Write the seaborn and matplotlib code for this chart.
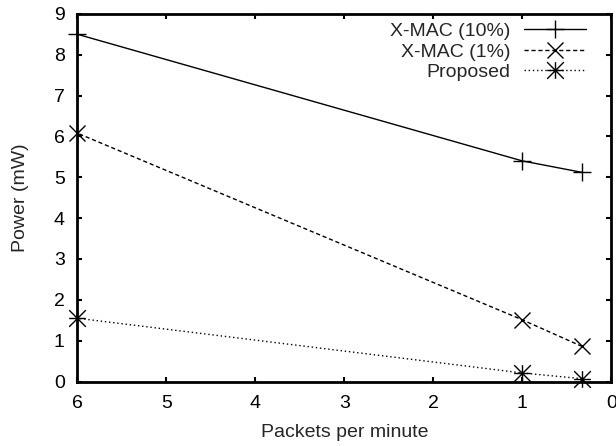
import numpy as np
import pandas as pd
import matplotlib
matplotlib.use("Agg")
import matplotlib.pyplot as plt
from matplotlib.path import Path
import seaborn as sns

# Packet rate (packets per minute) and average power draw (mW)
packets_per_minute = [6, 1, 0.33]
xmac_10 = [8.50, 5.40, 5.12]
xmac_1 = [6.08, 1.51, 0.86]
proposed = [1.55, 0.21, 0.07]
series_labels = ["X-MAC (10%)", "X-MAC (1%)", "Proposed"]
x_ticks = [6, 5, 4, 3, 2, 1, 0]
y_ticks = [0, 1, 2, 3, 4, 5, 6, 7, 8, 9]

sns.set_style("ticks")
plt.rcParams["font.family"] = ["Liberation Sans", "DejaVu Sans"]
plt.rcParams["font.size"] = 14

# gnuplot-style asterisk: a plus overlaid with a cross
asterisk = Path(
    [(-1, 0), (1, 0), (0, -1), (0, 1), (-1, -1), (1, 1), (-1, 1), (1, -1)],
    [Path.MOVETO, Path.LINETO] * 4,
)

df = pd.DataFrame({
    "rate": packets_per_minute * 3,
    "power": xmac_10 + xmac_1 + proposed,
    "scheme": [s for s in series_labels for _ in packets_per_minute],
})

fig = plt.figure(figsize=(6.16, 4.46), dpi=100)
ax = fig.add_axes([0.1255, 0.1445, 0.867, 0.8245])

styles = {
    "X-MAC (10%)": dict(marker="+", linestyle="-", markersize=13),
    "X-MAC (1%)": dict(marker="x", linestyle=(0, (3, 2)), markersize=12),
    "Proposed": dict(marker=asterisk, linestyle=(0, (1, 2)), markersize=12),
}

for name in series_labels:
    sub = df[df["scheme"] == name]
    sns.lineplot(
        data=sub, x="rate", y="power", ax=ax, color="black",
        linewidth=1.0, markeredgewidth=1.0, markeredgecolor="black",
        clip_on=False, label=name, **styles[name],
    )

ax.set_xlim(6, 0)
ax.set_ylim(0, 9)
ax.set_xticks(x_ticks)
ax.set_yticks(y_ticks)
ax.set_xticklabels([str(t) for t in x_ticks])
ax.set_yticklabels([str(t) for t in y_ticks])
ax.set_xlabel("Packets per minute", fontsize=14, labelpad=8.5)
ax.set_ylabel("Power (mW)", fontsize=14, labelpad=18)

for side in ["top", "bottom", "left", "right"]:
    ax.spines[side].set_visible(True)
    ax.spines[side].set_linewidth(2.0)
    ax.spines[side].set_color("black")
ax.tick_params(axis="both", direction="in", length=3.5, width=1.5,
               top=True, right=True, labelsize=14, colors="black")
ax.tick_params(axis="x", pad=10)
ax.tick_params(axis="y", pad=9)

leg = ax.legend(loc="upper right", bbox_to_anchor=(0.957, 0.982),
                markerfirst=False, frameon=False,
                handlelength=3.2, handletextpad=0.7, labelspacing=0.15,
                borderaxespad=0.0, borderpad=0.1, fontsize=14)

fig.savefig("out.png", dpi=100)
